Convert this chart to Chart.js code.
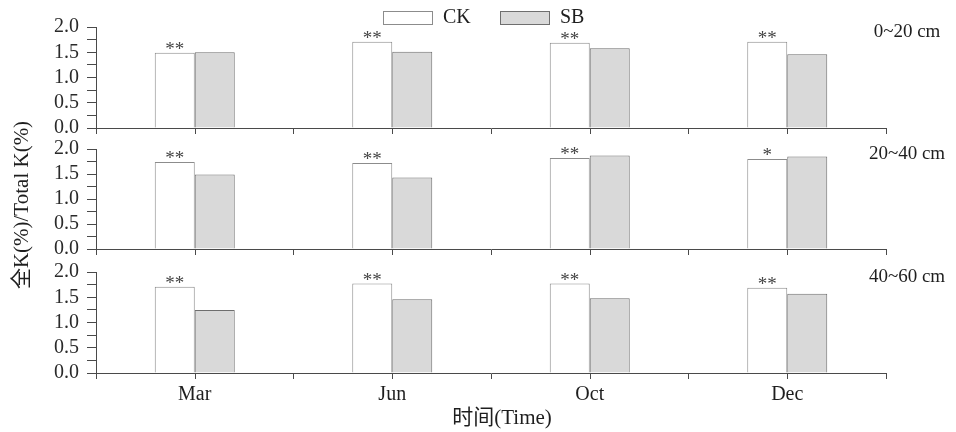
<!DOCTYPE html>
<html>
<head>
<meta charset="utf-8">
<script src="https://cdn.jsdelivr.net/npm/chart.js@4.4.0/dist/chart.umd.min.js"></script>
<style>
  body { margin: 0; background: #fff; }
  #wrap { position: relative; width: 956px; height: 432px; }
  #wrap canvas { position: absolute; left: 0; top: 0; }
</style>
</head>
<body>
<div id="wrap">
  <canvas id="c1" width="956" height="432"></canvas>
  <canvas id="c2" width="956" height="432"></canvas>
  <canvas id="c3" width="956" height="432"></canvas>
</div>
<script>
// data
const months = ['Mar', 'Jun', 'Oct', 'Dec'];
const seriesNames = ['CK', 'SB'];
const depths = ['0~20 cm', '20~40 cm', '40~60 cm'];
const yLabelTicks = [0, 0.5, 1.0, 1.5, 2.0];

const ck0_20 = [1.49, 1.71, 1.69, 1.71];
const sb0_20 = [1.50, 1.51, 1.58, 1.46];
const ck20_40 = [1.74, 1.72, 1.82, 1.80];
const sb20_40 = [1.49, 1.43, 1.87, 1.85];
const ck40_60 = [1.71, 1.77, 1.77, 1.69];
const sb40_60 = [1.25, 1.46, 1.48, 1.57];

const sig0_20 = ['**', '**', '**', '**'];
const sig20_40 = ['**', '**', '**', '*'];
const sig40_60 = ['**', '**', '**', '**'];

const yTitle = '全K(%)/Total K(%)';
const xTitle = '时间(Time)';

const SERIF = "'Liberation Serif', 'Times New Roman', 'Noto Sans CJK SC', serif";
const AXIS = '#4a4a4a';
const TEXT = '#1e1e1e';

// panel placement (top of 2.0 and baseline), px
const panelTop = [27, 149, 272];
const panelBase = [128, 249, 373];

// small tick under each month (grid lines sit on the boundaries)
const centerTicks = {
    id: 'centerTicks',
    afterDraw(chart) {
        const ctx = chart.ctx, x = chart.scales.x, bottom = chart.chartArea.bottom;
        ctx.save();
        ctx.strokeStyle = AXIS;
        ctx.lineWidth = 1;
        months.forEach((m, i) => {
            const px = Math.round(x.getPixelForValue(i)) + 0.5;
            ctx.beginPath();
            ctx.moveTo(px, bottom);
            ctx.lineTo(px, bottom + 6);
            ctx.stroke();
        });
        ctx.restore();
    }
};

// asterisks above CK bars + depth label
const panelText = {
    id: 'panelText',
    afterDatasetsDraw(chart, args, opts) {
        const ctx = chart.ctx;
        const meta = chart.getDatasetMeta(0);
        ctx.save();
        ctx.fillStyle = '#444';
        ctx.font = '19px ' + SERIF;
        ctx.textAlign = 'center';
        ctx.textBaseline = 'alphabetic';
        meta.data.forEach((bar, i) => {
            ctx.fillText(opts.sig[i], bar.x, bar.y + 2);
        });
        ctx.fillStyle = TEXT;
        ctx.font = '19px ' + SERIF;
        ctx.textBaseline = 'middle';
        ctx.fillText(opts.depth, 907, chart.chartArea.top + 5);
        ctx.restore();
    }
};

// legend drawn above first panel
const legendBoxes = {
    id: 'legendBoxes',
    afterDraw(chart) {
        const ctx = chart.ctx;
        const xs = [383, 500];
        ctx.save();
        ctx.font = '20px ' + SERIF;
        ctx.textBaseline = 'middle';
        ctx.textAlign = 'left';
        chart.data.datasets.forEach((ds, i) => {
            ctx.fillStyle = ds.backgroundColor;
            ctx.fillRect(xs[i], 11, 50, 14);
            ctx.strokeStyle = ds.borderColor;
            ctx.lineWidth = 1;
            ctx.strokeRect(xs[i] + 0.5, 11.5, 49, 13);
            ctx.fillStyle = TEXT;
            ctx.fillText(ds.label, xs[i] + 60, 18);
        });
        ctx.restore();
    }
};

// axis titles drawn on the bottom panel
const axisTitles = {
    id: 'axisTitles',
    afterDraw(chart) {
        const ctx = chart.ctx;
        ctx.save();
        ctx.fillStyle = TEXT;
        ctx.font = '21px ' + SERIF;
        ctx.textAlign = 'center';
        ctx.textBaseline = 'middle';
        ctx.fillText(xTitle, 502, 418);
        ctx.translate(22, 205);
        ctx.rotate(-Math.PI / 2);
        ctx.fillText(yTitle, 0, 0);
        ctx.restore();
    }
};

function makePanel(id, idx, ck, sb, sig) {
    const last = idx === 2;
    const xHeight = last ? 40 : 20;
    const plugins = [centerTicks, panelText];
    if (idx === 0) plugins.push(legendBoxes);
    if (last) plugins.push(axisTitles);

    return new Chart(document.getElementById(id), {
        type: 'bar',
        data: {
            labels: months,
            datasets: [
                { label: seriesNames[0], data: ck, backgroundColor: '#ffffff', borderColor: '#8c8c8c', borderWidth: 1 },
                { label: seriesNames[1], data: sb, backgroundColor: '#d9d9d9', borderColor: '#6e6e6e', borderWidth: 1 }
            ]
        },
        options: {
            responsive: false,
            animation: false,
            events: [],
            categoryPercentage: 0.405,
            barPercentage: 1.0,
            layout: {
                padding: {
                    left: 36,
                    right: 70,
                    top: panelTop[idx],
                    bottom: 432 - panelBase[idx] - xHeight
                }
            },
            plugins: {
                legend: { display: false },
                tooltip: { enabled: false },
                panelText: { sig: sig, depth: depths[idx] }
            },
            scales: {
                x: {
                    offset: true,
                    grid: { display: true, drawOnChartArea: false, drawTicks: true, tickLength: 6, offset: true, color: AXIS },
                    border: { display: true, color: AXIS, width: 1 },
                    ticks: { display: last, color: TEXT, padding: 4, font: { family: SERIF, size: 20 } },
                    afterFit: s => { s.height = xHeight; }
                },
                y: {
                    min: 0,
                    max: 2,
                    grid: { display: true, drawOnChartArea: false, drawTicks: true, tickLength: 9, color: AXIS },
                    border: { display: true, color: AXIS, width: 1 },
                    ticks: {
                        stepSize: 0.25,
                        autoSkip: false,
                        color: '#2a2a2a',
                        padding: 8,
                        font: { family: SERIF, size: 20 },
                        callback: v => yLabelTicks.includes(v) ? v.toFixed(1) : ''
                    },
                    afterFit: s => { s.width = 60; }
                }
            }
        },
        plugins: plugins
    });
}

makePanel('c1', 0, ck0_20, sb0_20, sig0_20);
makePanel('c2', 1, ck20_40, sb20_40, sig20_40);
makePanel('c3', 2, ck40_60, sb40_60, sig40_60);
</script>
</body>
</html>
